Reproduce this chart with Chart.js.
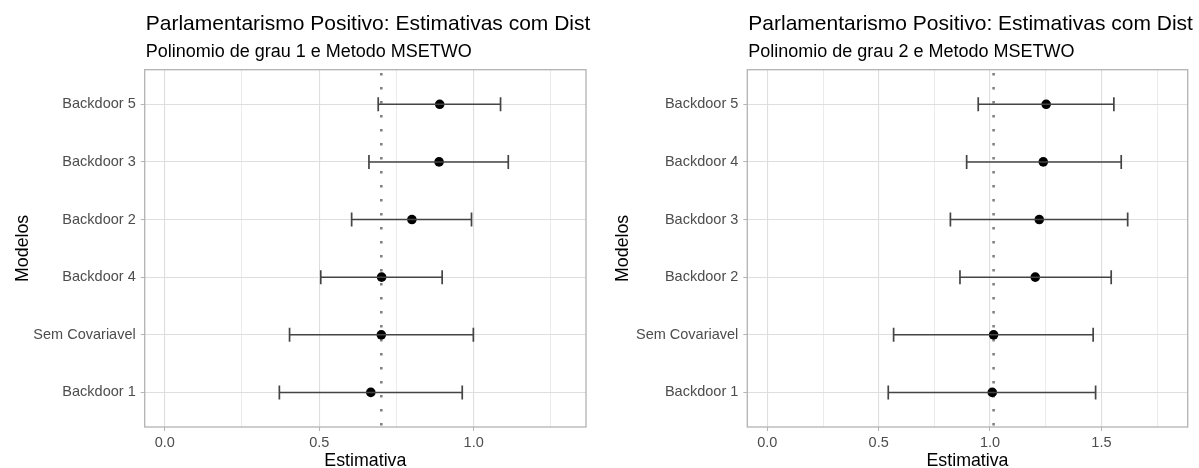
<!DOCTYPE html>
<html>
<head>
<meta charset="utf-8">
<script src="https://cdn.jsdelivr.net/npm/chart.js@4/dist/chart.umd.min.js"></script>
<style>
  html, body { margin: 0; padding: 0; background: #fff; }
  .panel { position: absolute; top: 0; }
</style>
</head>
<body>
<div class="panel" style="left:0"><canvas id="chart1" width="600" height="468"></canvas></div>
<div class="panel" style="left:600px"><canvas id="chart2" width="599" height="468"></canvas></div>
<script>
const mainTitle = 'Parlamentarismo Positivo: Estimativas com Dist';

// grau 1 (top to bottom)
const models1 = ['Backdoor 5', 'Backdoor 3', 'Backdoor 2', 'Backdoor 4', 'Sem Covariavel', 'Backdoor 1'];
const est1 = [0.890, 0.888, 0.800, 0.702, 0.701, 0.667];
const lower1 = [0.691, 0.661, 0.605, 0.505, 0.404, 0.371];
const upper1 = [1.087, 1.112, 0.993, 0.898, 0.999, 0.963];
const xTicks1 = [0, 0.25, 0.5, 0.75, 1.0, 1.25];

// grau 2
const models2 = ['Backdoor 5', 'Backdoor 4', 'Backdoor 3', 'Backdoor 2', 'Sem Covariavel', 'Backdoor 1'];
const est2 = [1.252, 1.239, 1.221, 1.203, 1.016, 1.010];
const lower2 = [0.947, 0.895, 0.822, 0.865, 0.567, 0.543];
const upper2 = [1.556, 1.589, 1.618, 1.544, 1.463, 1.474];
const xTicks2 = [0, 0.25, 0.5, 0.75, 1.0, 1.25, 1.5, 1.75];

const FONT = '"Liberation Sans", Arial, sans-serif';
const isMajor = v => Math.abs(v * 2 - Math.round(v * 2)) < 1e-6;

//titles, axis titles, panel border and the dotted reference line
const decorPlugin = {
  id: 'decor',
  beforeDatasetsDraw(chart, args, opts) {
    const { ctx, chartArea } = chart;
    const x = chart.scales.x.getPixelForValue(opts.refLine);
    ctx.save();
    ctx.strokeStyle = '#808080';
    ctx.lineWidth = 2.6;
    ctx.setLineDash([2.6, 11.4]);
    ctx.beginPath();
    ctx.moveTo(x, chartArea.top + 3.3);
    ctx.lineTo(x, chartArea.bottom);
    ctx.stroke();
    ctx.restore();
  },
  afterDraw(chart, args, opts) {
    const { ctx, chartArea } = chart;
    ctx.save();
    ctx.strokeStyle = '#b3b3b3';
    ctx.lineWidth = 1.3;
    ctx.strokeRect(chartArea.left, chartArea.top, chartArea.right - chartArea.left, chartArea.bottom - chartArea.top);

    ctx.fillStyle = '#000';
    ctx.textBaseline = 'alphabetic';
    ctx.textAlign = 'left';
    ctx.font = '21px ' + FONT;
    ctx.fillText(opts.title, chartArea.left + 1, 29.5);
    ctx.font = '18px ' + FONT;
    ctx.fillText(opts.subtitle, chartArea.left + 1, 56.7);

    ctx.textAlign = 'center';
    ctx.font = '17.8px ' + FONT;
    ctx.fillText('Estimativa', (chartArea.left + chartArea.right) / 2, 466);
    ctx.translate(27.5, (chartArea.top + chartArea.bottom) / 2);
    ctx.rotate(-Math.PI / 2);
    ctx.fillText('Modelos', 0, 0);
    ctx.restore();
  }
};

const createPanel = (canvasId, models, est, lower, upper, xTicks, xMin, xMax, leftW, rightPad, subtitle) => {
  const ctx = document.getElementById(canvasId).getContext('2d');
  const refLine = est[models.indexOf('Sem Covariavel')];

  // one line per model, with the caps drawn as rotated 'line' points
  const bars = models.map((m, i) => ({
    type: 'scatter',
    data: [{ x: lower[i], y: i + 1 }, { x: upper[i], y: i + 1 }],
    showLine: true,
    borderColor: '#444444',
    borderWidth: 1.5,
    pointStyle: 'line',
    rotation: 90,
    pointRadius: 7,
    pointBorderWidth: 1.7,
    pointBorderColor: '#444444'
  }));

  return new Chart(ctx, {
    type: 'scatter',
    data: {
      datasets: [...bars, {
        data: est.map((v, i) => ({ x: v, y: i + 1 })),
        pointRadius: 4.8,
        pointBackgroundColor: '#000',
        pointBorderWidth: 0
      }]
    },
    options: {
      responsive: false,
      animation: false,
      events: [],
      layout: { padding: { top: 69.7, right: rightPad, left: 0, bottom: 0 } },
      scales: {
        x: {
          type: 'linear',
          min: xMin,
          max: xMax,
          afterBuildTicks: s => { s.ticks = xTicks.map(v => ({ value: v })); },
          afterFit: s => { s.height = 41; },
          ticks: {
            color: '#4d4d4d',
            font: { family: FONT, size: 14.5 },
            padding: 3,
            maxRotation: 0,
            callback: v => isMajor(v) ? v.toFixed(1) : ''
          },
          grid: {
            color: c => isMajor(c.tick.value) ? '#dedede' : '#e6e6e6',
            lineWidth: c => isMajor(c.tick.value) ? 1.1 : 0.8,
            tickColor: c => isMajor(c.tick.value) ? '#b3b3b3' : 'rgba(0,0,0,0)',
            tickLength: 4,
            tickWidth: 1
          },
          border: { display: false }
        },
        y: {
          type: 'linear',
          reverse: true,
          min: 0.4,
          max: models.length + 0.6,
          afterBuildTicks: s => { s.ticks = models.map((m, i) => ({ value: i + 1 })); },
          afterFit: s => { s.width = leftW; },
          ticks: {
            color: '#4d4d4d',
            font: { family: FONT, size: 14.5 },
            padding: 5,
            callback: v => models[v - 1]
          },
          grid: {
            color: '#dedede',
            lineWidth: 1.1,
            tickColor: '#b3b3b3',
            tickLength: 4,
            tickWidth: 1
          },
          border: { display: false }
        }
      },
      plugins: {
        legend: { display: false },
        tooltip: { enabled: false },
        decor: { title: mainTitle, subtitle: subtitle, refLine: refLine }
      }
    },
    plugins: [decorPlugin]
  });
};

createPanel('chart1', models1, est1, lower1, upper1, xTicks1, -0.0649, 1.3636, 144.7, 14, 'Polinomio de grau 1 e Metodo MSETWO');
createPanel('chart2', models2, est2, lower2, upper2, xTicks2, -0.0899, 1.8875, 147.3, 11.3, 'Polinomio de grau 2 e Metodo MSETWO');
</script>
</body>
</html>
